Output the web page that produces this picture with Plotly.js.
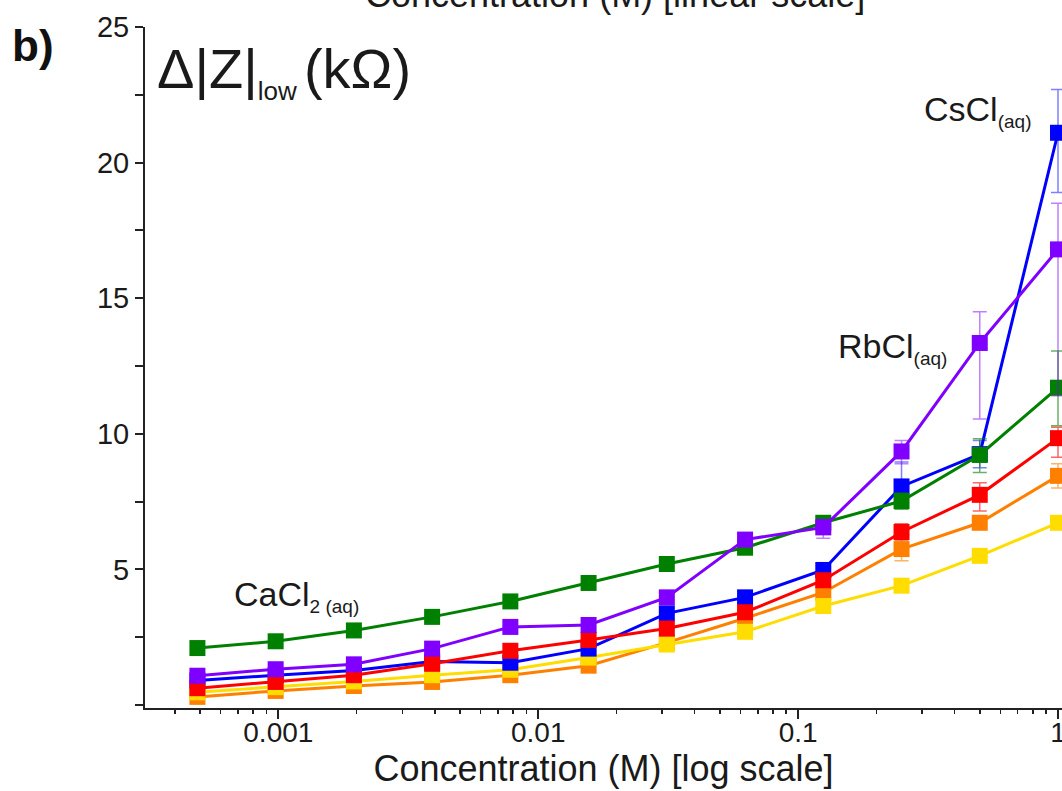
<!DOCTYPE html>
<html>
<head>
<meta charset="utf-8">
<script src="https://cdn.plot.ly/plotly-3.0.1.min.js"></script>
<style>html,body{margin:0;padding:0;background:#fff;}#chart{width:1062px;height:791px;}</style>
</head>
<body>
<div id="chart"></div>
<script>
// Concentration (M)
var conc = [0.00048828, 0.00097656, 0.00195313, 0.00390625, 0.0078125, 0.015625, 0.03125, 0.0625, 0.125, 0.25, 0.5, 1.0];

// Δ|Z|low (kΩ) per series
var cacl2 = [2.1, 2.35, 2.75, 3.25, 3.82, 4.5, 5.2, 5.8, 6.72, 7.52, 9.22, 11.7];
var rbcl  = [1.08, 1.32, 1.5, 2.08, 2.88, 2.95, 3.97, 6.1, 6.55, 9.35, 13.35, 16.8];
var cscl  = [0.9, 1.1, 1.27, 1.6, 1.56, 2.08, 3.38, 3.97, 4.98, 8.06, 9.25, 21.1];
var red   = [0.62, 0.85, 1.1, 1.52, 2.0, 2.4, 2.82, 3.42, 4.6, 6.38, 7.75, 9.84];
var orange= [0.3, 0.52, 0.7, 0.85, 1.1, 1.45, 2.3, 3.2, 4.15, 5.75, 6.72, 8.45];
var yellow= [0.47, 0.66, 0.87, 1.1, 1.3, 1.75, 2.23, 2.7, 3.65, 4.4, 5.5, 6.72];

// error bars (plus / minus)
var cacl2ErrP = [null, null, null, null, null, null, null, null, null, 0.3, 0.6, 1.35];
var cacl2ErrM = [null, null, null, null, null, null, null, null, null, 0.3, 0.65, 1.4];
var rbclErrP  = [null, null, null, null, null, null, null, null, 0.3, 0.4, 1.15, 1.7];
var rbclErrM  = [null, null, null, null, null, null, null, null, 0.4, 0.45, 2.8, 5.4];
var csclErrP  = [null, null, null, null, null, null, null, null, null, 0.9, 0.5, 1.6];
var csclErrM  = [null, null, null, null, null, null, null, null, null, 0.6, 0.5, 2.2];
var redErrP   = [null, null, null, null, null, null, null, null, null, 0.3, 0.45, 0.4];
var redErrM   = [null, null, null, null, null, null, null, null, null, 0.3, 0.6, 0.7];
var orangeErrP= [null, null, null, null, null, null, null, null, 0.2, 0.35, 0.2, 0.45];
var orangeErrM= [null, null, null, null, null, null, null, null, 0.2, 0.43, 0.2, 0.45];
var yellowErrP= [null, null, null, null, null, null, null, null, null, null, null, null];
var yellowErrM= [null, null, null, null, null, null, null, null, null, null, null, null];

// tick labels
var xMajor = [0.001, 0.01, 0.1, 1];
var xMajorText = ['0.001', '0.01', '0.1', '1'];
var xMinor = [0.0003,0.0004,0.0005,0.0006,0.0007,0.0008,0.0009,
              0.002,0.003,0.004,0.005,0.006,0.007,0.008,0.009,
              0.02,0.03,0.04,0.05,0.06,0.07,0.08,0.09,
              0.2,0.3,0.4,0.5,0.6,0.7,0.8,0.9];
var yTicks = [0, 2.5, 5, 7.5, 10, 12.5, 15, 17.5, 20, 22.5, 25];
var yTickText = ['', '', '5', '', '10', '', '15', '', '20', '', '25'];

function series(y, ep, em, color, errColor) {
  return {
    x: conc, y: y, type: 'scatter', mode: 'lines+markers',
    line: {color: color, width: 3},
    marker: {symbol: 'square', size: 16, color: color},
    error_y: {type: 'data', symmetric: false, array: ep, arrayminus: em,
              color: errColor, thickness: 1.5, width: 7, visible: true},
    showlegend: false, hoverinfo: 'x+y'
  };
}

var data = [
  series(orange, orangeErrP, orangeErrM, '#ff8000', 'rgba(255,128,0,0.6)'),
  series(yellow, yellowErrP, yellowErrM, '#ffdd00', 'rgba(255,221,0,0.6)'),
  series(cscl, csclErrP, csclErrM, '#0000ff', 'rgba(0,0,255,0.5)'),
  series(red, redErrP, redErrM, '#ff0000', 'rgba(255,0,0,0.6)'),
  series(cacl2, cacl2ErrP, cacl2ErrM, '#008000', 'rgba(0,128,0,0.6)'),
  series(rbcl, rbclErrP, rbclErrM, '#8000ff', 'rgba(128,0,255,0.5)')
];

var FONT = '"Liberation Sans", Arial, sans-serif';

var layout = {
  width: 1062, height: 791,
  margin: {l: 145, r: 0, t: 27, b: 83, pad: 0},
  paper_bgcolor: '#ffffff', plot_bgcolor: '#ffffff',
  font: {family: FONT, color: '#1a1a1a'},
  xaxis: {
    type: 'log', range: [-3.513, 0.0154],
    showgrid: false, zeroline: false,
    showline: true, linecolor: '#222', linewidth: 2,
    tickvals: xMajor, ticktext: xMajorText,
    ticks: 'outside', ticklen: 9, tickwidth: 2, tickcolor: '#222',
    ticklabelstandoff: -11,
    ticklabeloverflow: 'allow',
    tickfont: {size: 28, family: FONT, color: '#1a1a1a'},
    minor: {tickvals: xMinor, ticks: 'outside', ticklen: 4, tickwidth: 1.5, tickcolor: '#222', showgrid: false},
    title: {text: 'Concentration (M) [log scale]', font: {size: 36, family: FONT, color: '#1a1a1a'}, standoff: 4},
    automargin: false
  },
  yaxis: {
    range: [-0.11, 25],
    showgrid: false, zeroline: false,
    showline: true, linecolor: '#222', linewidth: 2,
    tickvals: yTicks, ticktext: yTickText,
    ticks: 'outside', ticklen: 8, tickwidth: 2, tickcolor: '#222',
    tickfont: {size: 29, family: FONT, color: '#1a1a1a'},
    automargin: false
  },
  annotations: [
    {xref: 'paper', yref: 'paper', x: 0.0109, y: 0.9883, xanchor: 'left', yanchor: 'top', showarrow: false,
     text: 'Δ|Z|<sub><span style="font-size:26px">low </span></sub>(kΩ)', font: {size: 56, family: FONT, color: '#1a1a1a'}},
    {xref: 'paper', yref: 'paper', x: 0.8473, y: 0.9104, xanchor: 'left', yanchor: 'top', showarrow: false,
     text: 'CsCl<sub><span style="font-size:19px">(aq)</span></sub>', font: {size: 34, family: FONT, color: '#1a1a1a'}},
    {xref: 'paper', yref: 'paper', x: 0.7535, y: 0.5624, xanchor: 'left', yanchor: 'top', showarrow: false,
     text: 'RbCl<sub><span style="font-size:19px">(aq)</span></sub>', font: {size: 34, family: FONT, color: '#1a1a1a'}},
    {xref: 'paper', yref: 'paper', x: 0.0949, y: 0.1982, xanchor: 'left', yanchor: 'top', showarrow: false,
     text: 'CaCl<sub><span style="font-size:19px">2 (aq)</span></sub>', font: {size: 34, family: FONT, color: '#1a1a1a'}},
    {xref: 'paper', yref: 'paper', x: -0.147, y: 1.012, xanchor: 'left', yanchor: 'top', showarrow: false,
     text: '<b>b)</b>', font: {size: 44, family: FONT, color: '#111'}},
    {xref: 'paper', yref: 'paper', x: 0.5125, y: 1.0807, xanchor: 'center', yanchor: 'top', showarrow: false,
     text: 'Concentration (M) [linear scale]', font: {size: 36, family: FONT, color: '#1a1a1a'}}
  ]
};

Plotly.newPlot('chart', data, layout, {displayModeBar: false, staticPlot: true});
</script>
</body>
</html>
